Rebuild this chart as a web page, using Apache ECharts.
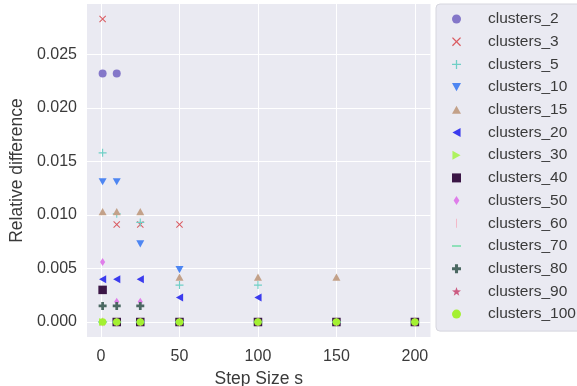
<!DOCTYPE html>
<html>
<head>
<meta charset="utf-8">
<script src="https://cdn.jsdelivr.net/npm/echarts@6/dist/echarts.min.js"></script>
<style>
  html, body { margin: 0; padding: 0; background: #ffffff; }
  #chart { width: 577px; height: 386px; }
</style>
</head>
<body>
<div id="chart"></div>
<script>
// Step sizes shared by every series
var steps = [1, 10, 25, 50, 100, 150, 200];

// Relative difference per series, aligned with steps (null = no point)
var clusters_2   = [0.0232, 0.0232, null, null, null, null, null];
var clusters_3   = [0.0283, 0.0091, 0.0091, 0.0091, null, null, null];
var clusters_5   = [0.0158, 0.0101, 0.0093, 0.00345, 0.00345, null, null];
var clusters_10  = [0.0131, 0.0131, 0.0073, 0.0049, null, null, null];
var clusters_15  = [0.0103, 0.0103, 0.0103, 0.0042, 0.0042, 0.0042, null];
var clusters_20  = [0.0040, 0.0040, 0.0040, 0.0023, 0.0023, null, null];
var clusters_30  = [0, 0, 0, 0, 0, 0, 0];
var clusters_40  = [0.0030, 0, 0, 0, 0, 0, 0];
var clusters_50  = [0.0056, 0.0019, 0.0019, null, null, null, null];
var clusters_60  = [0, 0, 0, 0, 0, 0, 0];
var clusters_70  = [0, 0, 0, 0, 0, 0, 0];
var clusters_80  = [0.0015, 0.0015, 0.0015, null, null, null, null];
var clusters_90  = [0, 0, 0, 0, 0, 0, 0];
var clusters_100 = [0, 0, 0, 0, 0, 0, 0];

var seriesNames = ['clusters_2', 'clusters_3', 'clusters_5', 'clusters_10', 'clusters_15',
  'clusters_20', 'clusters_30', 'clusters_40', 'clusters_50', 'clusters_60',
  'clusters_70', 'clusters_80', 'clusters_90', 'clusters_100'];
var seriesValues = [clusters_2, clusters_3, clusters_5, clusters_10, clusters_15,
  clusters_20, clusters_30, clusters_40, clusters_50, clusters_60,
  clusters_70, clusters_80, clusters_90, clusters_100];

var xTicks = [0, 50, 100, 150, 200];
var yTicks = [0, 0.005, 0.010, 0.015, 0.020, 0.025];

// Marker shapes
var P = {
  cross: 'path://M1,0 L5,4 L9,0 L10,1 L6,5 L10,9 L9,10 L5,6 L1,10 L0,9 L4,5 L0,1 Z',
  plus: 'path://M4.3,0 H5.7 V4.3 H10 V5.7 H5.7 V10 H4.3 V5.7 H0 V4.3 H4.3 Z',
  triDown: 'path://M0,0 L10,0 L5,9 Z',
  triUp: 'path://M5,0 L10,9 L0,9 Z',
  triLeft: 'path://M0,5 L9,0 L9,10 Z',
  triRight: 'path://M0,0 L9,5 L0,10 Z',
  square: 'path://M0,0 H10 V10 H0 Z',
  diamond: 'path://M3.2,0 L6.4,5 L3.2,10 L0,5 Z',
  vline: 'path://M0,0 H1 V10 H0 Z',
  hline: 'path://M0,0 H10 V1.6 H0 Z',
  plusFilled: 'path://M3.3,0 H6.7 V3.3 H10 V6.7 H6.7 V10 H3.3 V6.7 H0 V3.3 H3.3 Z',
  star: 'path://M5,0 L6.18,3.38 L9.76,3.45 L6.9,5.62 L7.94,9.05 L5,7 L2.06,9.05 L3.1,5.62 L0.24,3.45 L3.82,3.38 Z'
};

var styles = [
  { symbol: 'circle',     size: 8,   color: '#8477C9' },
  { symbol: P.cross,      size: 7,   color: '#DA5A60' },
  { symbol: P.plus,       size: 8,   color: '#6FCFC6' },
  { symbol: P.triDown,    size: 8,   color: '#4E86F2' },
  { symbol: P.triUp,      size: 8,   color: '#C3A189' },
  { symbol: P.triLeft,    size: 8,   color: '#3B3BEE' },
  { symbol: P.triRight,   size: 8,   color: '#AEF25E' },
  { symbol: P.square,     size: 8.5, color: '#3B1646' },
  { symbol: P.diamond,    size: 8,   color: '#DF7EEA' },
  { symbol: P.vline,      size: 9,   color: '#F4B4C4' },
  { symbol: P.hline,      size: 9,   color: '#6DDCA3' },
  { symbol: P.plusFilled, size: 8,   color: '#4B6862' },
  { symbol: P.star,       size: 8,   color: '#CC5C82' },
  { symbol: 'circle',     size: 7.5, color: '#A4F032' }
];

var series = seriesNames.map(function (name, i) {
  var pts = [];
  seriesValues[i].forEach(function (v, j) {
    if (v !== null) pts.push([steps[j], v]);
  });
  return {
    name: name,
    type: 'scatter',
    data: pts,
    symbol: styles[i].symbol,
    symbolSize: styles[i].size,
    symbolKeepAspect: true,
    itemStyle: { color: styles[i].color, opacity: 1 },
    emphasis: { disabled: true },
    z: 2 + i
  };
});

var font = 'Liberation Sans, Arial, Helvetica, sans-serif';
var chart = echarts.init(document.getElementById('chart'), null, { renderer: 'canvas' });
chart.setOption({
  animation: false,
  backgroundColor: '#ffffff',
  grid: {
    left: 87, right: 146.5, top: 4, bottom: 49,
    outerBoundsMode: 'none',
    containLabel: false,
    show: true, backgroundColor: '#EAEAF2', borderWidth: 0
  },
  xAxis: {
    type: 'value',
    min: -8.95, max: 209.95,
    name: 'Step Size s',
    nameLocation: 'middle',
    nameGap: 31,
    nameTextStyle: { fontFamily: font, fontSize: 17.5, color: '#3a3a3a' },
    axisLine: { show: false },
    axisTick: { show: false, customValues: xTicks },
    axisLabel: { customValues: xTicks, fontFamily: font, fontSize: 16, color: '#3a3a3a', margin: 12 },
    splitLine: { show: true, lineStyle: { color: '#ffffff', width: 1 } }
  },
  yAxis: {
    type: 'value',
    min: -0.0014, max: 0.0297,
    name: 'Relative difference',
    nameLocation: 'middle',
    nameGap: 59,
    nameTextStyle: { fontFamily: font, fontSize: 17.5, color: '#3a3a3a' },
    axisLine: { show: false },
    axisTick: { show: false, customValues: yTicks },
    axisLabel: {
      customValues: yTicks, fontFamily: font, fontSize: 16, color: '#3a3a3a', margin: 10,
      formatter: function (v) { return v.toFixed(3); }
    },
    splitLine: { show: true, lineStyle: { color: '#ffffff', width: 1 } }
  },
  legend: {
    orient: 'vertical',
    left: 436, top: 4,
    padding: [7, 10, 9, 16],
    itemWidth: 9, itemHeight: 9,
    itemGap: 6.7,
    backgroundColor: '#EAEAF2',
    borderColor: '#D6D6DE', borderWidth: 1, borderRadius: 4,
    selectedMode: false,
    textStyle: { fontFamily: font, fontSize: 15.5, color: '#3a3a3a', lineHeight: 15, padding: [0, 0, 0, 22] },
    data: seriesNames
  },
  series: series
});
</script>
</body>
</html>
